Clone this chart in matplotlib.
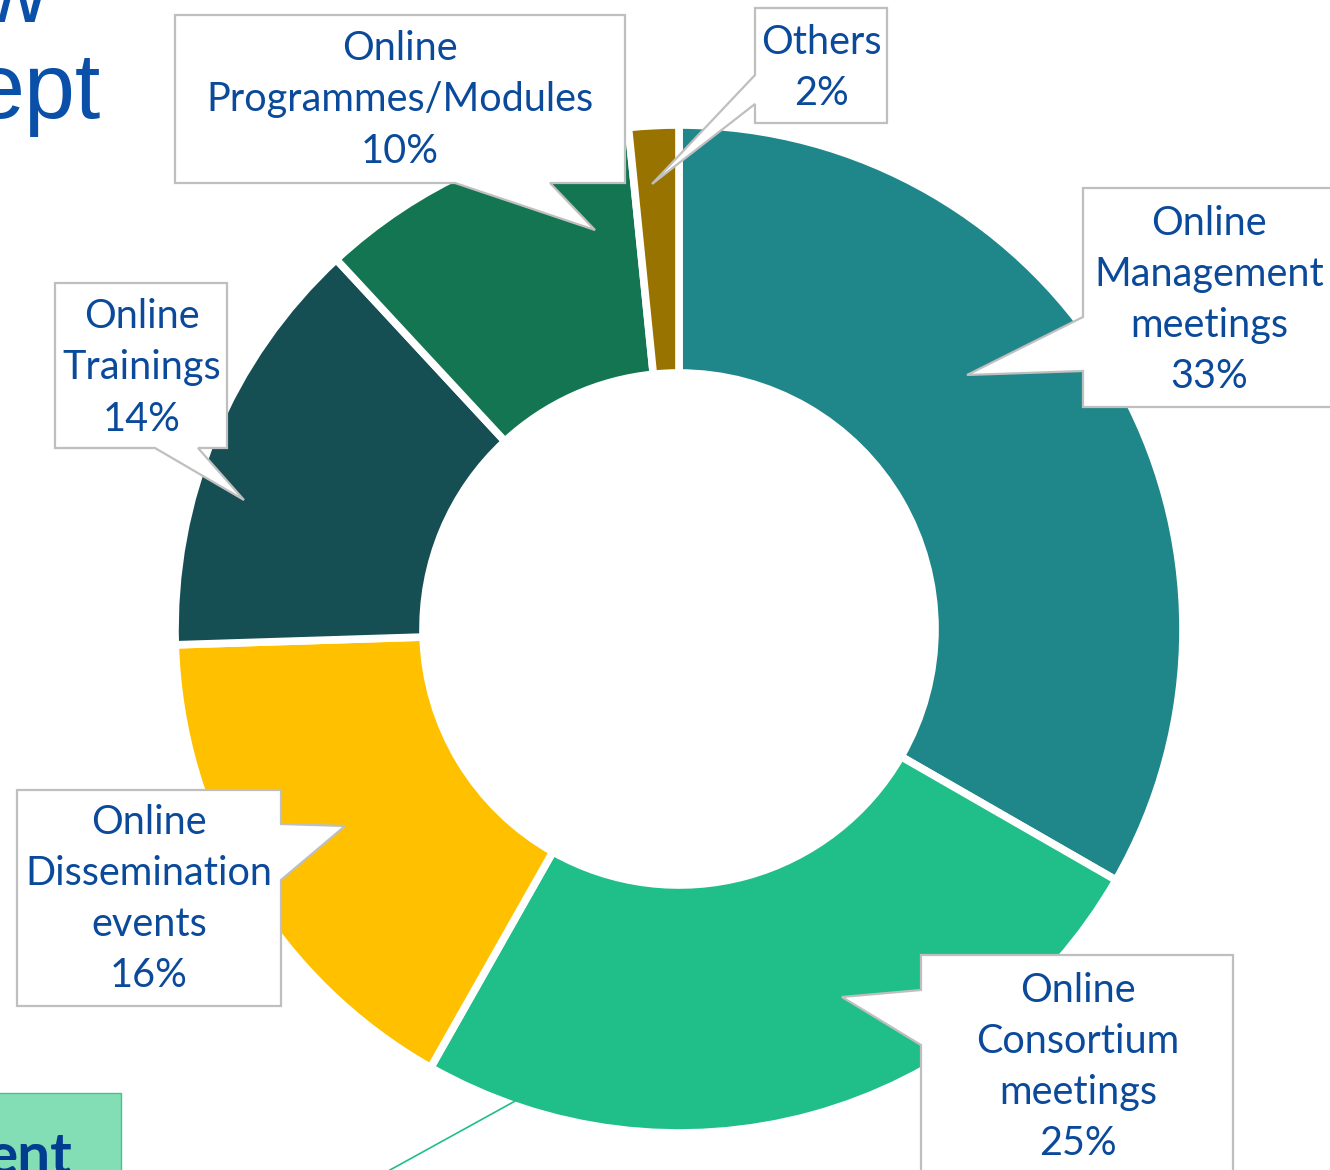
import matplotlib
matplotlib.use("Agg")
from matplotlib import pyplot as plt
from matplotlib.patches import Polygon, Rectangle

categories = [
    "Online\nManagement\nmeetings",
    "Online\nConsortium\nmeetings",
    "Online\nDissemination\nevents",
    "Online\nTrainings",
    "Online\nProgrammes/Modules",
    "Others",
]
shares = [33.3, 24.9, 16.3, 13.6, 10.3, 1.6]
colors = ["#1F868A", "#20BF8A", "#FFC000", "#154F54", "#147552", "#987300"]

text_blue = "#0B4A9B"
border = "#BFBFBF"

W, H = 1330, 1170
fig = plt.figure(figsize=(W / 100, H / 100), dpi=100)
ax = fig.add_axes([0, 0, 1, 1])

# donut (y axis points down, so ccw in data = clockwise on screen)
ax.pie(
    shares,
    colors=colors,
    center=(679, 629),
    radius=504,
    startangle=-90,
    counterclock=True,
    wedgeprops=dict(width=248, edgecolor="white", linewidth=5.5),
)
ax.set_xlim(0, W)
ax.set_ylim(H, 0)
ax.set_aspect("equal")
ax.axis("off")


def callout(box, edge, base, tip):
    x0, y0, x1, y1 = box
    tl, tr, br, bl = (x0, y0), (x1, y0), (x1, y1), (x0, y1)
    if edge == "top":
        pts = [tl, (base[0], y0), tip, (base[1], y0), tr, br, bl]
    elif edge == "right":
        pts = [tl, tr, (x1, base[0]), tip, (x1, base[1]), br, bl]
    elif edge == "bottom":
        pts = [tl, tr, br, (base[1], y1), tip, (base[0], y1), bl]
    else:
        pts = [tl, tr, br, bl, (x0, base[1]), tip, (x0, base[0])]
    ax.add_patch(Polygon(pts, closed=True, facecolor="white",
                         edgecolor=border, linewidth=1.6, zorder=5))


# box, pointer edge, pointer base, pointer tip, text centre
boxes = [
    ((1083, 188, 1345, 407), "left", (317, 371), (967, 375), (1209, 300)),
    ((921, 955, 1233, 1200), "left", (990, 1045), (842, 997), (1078, 1067)),
    ((17, 790, 281, 1006), "right", (824, 880), (345, 826), (149, 899)),
    ((55, 283, 227, 448), "bottom", (155, 198), (244, 500), (142, 368)),
    ((175, 15, 625, 183), "bottom", (455, 550), (595, 230), (400, 100)),
    ((755, 8, 887, 123), "left", (75, 104), (652, 184), (821, 68)),
]

for name, val, (box, edge, base, tip, pos) in zip(categories, shares, boxes):
    callout(box, edge, base, tip)
    ax.text(pos[0], pos[1], f"{name}\n{val:.0f}%", ha="center", va="center",
            color=text_blue, fontsize=28.5, family="Lato", linespacing=1.47,
            zorder=6)

# pieces of the slide around the chart
ax.text(47, 22, "w", ha="right", va="baseline", color="#0B50A8",
        fontsize=66, family="Liberation Sans")
ax.text(100, 118, "ept", ha="right", va="baseline", color="#0B50A8",
        fontsize=66, family="Liberation Sans")
ax.add_patch(Rectangle((-5, 1093), 126, 100, facecolor="#83DDB5",
                       edgecolor="#3CC98F", linewidth=1, zorder=4))
ax.text(72, 1174, "ent", ha="right", va="baseline", color="#003D8F",
        fontsize=42, fontweight="bold", family="Lato", zorder=6)
ax.plot([517, 390], [1100, 1170], color="#20BF8A", linewidth=1.2)

fig.savefig("out.png", dpi=100)
